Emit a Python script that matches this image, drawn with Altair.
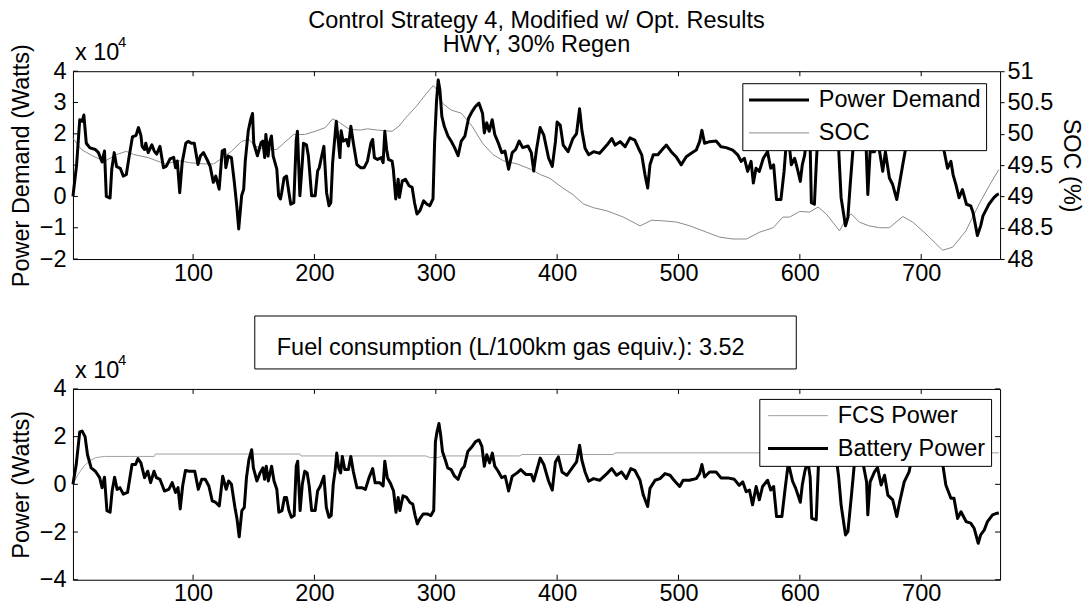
import altair as alt
import pandas as pd

# ---------------- data ----------------
# Power demand, units of 1e4 W
demand_t = [1, 4, 6.6, 8.5, 10, 12, 15, 19.5, 22, 25, 27, 28.5, 31.6, 33, 35, 37, 40, 42.5, 45, 47,
            50, 53, 55, 57, 58, 60, 61, 63, 66, 68, 70, 72.7, 75.6, 78, 81, 84, 85.6, 87, 89, 91,
            94, 96, 98.6, 101, 104, 106, 108.6, 111.5, 114, 116.7, 118.7, 121.5, 124, 126, 127, 129, 131.6, 134, 136, 137.6,
            140, 141.7, 143, 145.5, 147.4, 149, 150, 153, 156, 157.5, 159, 160, 161.8, 163, 164.6, 166, 169, 170.5, 172, 173,
            175, 177, 179, 180.5, 183, 185, 186, 188, 190, 191, 193.4, 195, 197.7, 200.6, 202.6, 204, 206, 207.8, 210, 212,
            213.5, 215, 216.4, 218, 219.5, 221, 222, 223.6, 226.4, 228, 230, 232, 235, 238, 241, 243.7, 246.5, 248, 249.4, 252,
            255, 256.6, 258, 259.5, 261, 264, 265, 267, 269, 270, 272.4, 275, 278, 280.5, 282.5, 284.5, 287, 290, 292.5, 295,
            297.7, 299, 300.6, 302, 303.4, 305, 307, 310, 312.6, 315.5, 318.4, 321, 324, 327, 330, 332.8, 335.6, 338.5, 340, 342,
            344, 346.5, 348.6, 351.4, 354.3, 357, 360, 363, 365.8, 368.7, 371.6, 376, 378.7, 380.7, 383, 386, 389, 393, 396, 398.6,
            400, 402.6, 405, 409, 413, 416, 418.5, 420.4, 423, 426, 430, 435, 441, 445, 447.8, 451.9, 456, 460, 464, 467,
            469.7, 472.4, 474.6, 476.5, 479.2, 483, 487.5, 490, 494, 498, 502.3, 506.4, 510.5, 514.6, 517.4, 519.3, 521.5, 525.6, 531, 535,
            539.3, 544.7, 548.8, 551.6, 554.3, 557, 559.8, 561.7, 563.9, 566.6, 569.9, 573.4, 576, 578.4, 580.8, 584.4, 587, 589.8, 593, 595.7,
            598.5, 600.4, 602, 604, 606.7, 608.5, 609.5, 612, 613.5, 615.7, 620, 625, 629, 632, 634, 637.6, 639.6, 641.5, 643.7, 647,
            651, 654.7, 656, 657.9, 661.5, 664, 665.6, 668.3, 670.5, 673.8, 676.5, 679.9, 682, 684.8, 687.5, 692, 697, 702, 707, 713,
            717, 719, 721.7, 724.5, 726.3, 728.6, 731.2, 734, 737.3, 740.8, 742.7, 746.3, 749, 750.9, 753, 755.8, 759.9, 762.6, 764]
demand_v = [0.0, 1.0, 2.45, 2.4, 2.6, 1.7, 1.55, 1.5, 1.4, 1.1, 1.45, 0.0, -0.05, 0.87, 1.4, 0.95, 0.9, 0.65, 0.7, 1.2,
            1.9, 1.95, 2.2, 1.95, 1.6, 1.5, 1.7, 1.4, 1.65, 1.45, 1.35, 1.6, 0.92, 0.97, 1.2, 1.25, 0.92, 1.13, 0.12, 1.08,
            1.7, 1.76, 1.7, 1.7, 1.02, 1.29, 1.4, 1.18, 0.97, 0.45, 0.65, 0.23, 1.45, 1.5, 0.92, 1.29, 1.24, 0.45, -0.3, -1.04,
            0.02, 0.23, 1.13, 2.1, 2.45, 2.65, 1.7, 1.3, 1.72, 1.77, 1.24, 1.98, 1.29, 1.72, 1.93, 1.29, 0.87, 0.02, -0.08, 0.12,
            0.6, 0.65, 0.12, -0.25, -0.2, 1.8, 2.08, 0.02, 1.08, 1.7, 1.65, 1.3, 0.02, 0.02, 0.81, 0.92, 1.29, 1.6, 0.12, -0.3,
            -0.2, 1.08, 1.7, 2.4, 1.82, 1.24, 2.1, 1.77, 1.82, 1.61, 2.24, 1.72, 1.02, 0.92, 0.92, 1.13, 1.7, 1.82, 1.24, 1.18,
            1.24, 1.08, 2.08, 1.5, 1.18, 1.13, 0.87, -0.08, 0.55, -0.03, 0.5, 0.55, 0.34, 0.29, -0.2, -0.56, -0.45, -0.14, -0.24, -0.3,
            -0.08, 1.7, 3.04, 3.72, 3.4, 2.56, 2.24, 1.93, 1.77, 1.56, 1.3, 1.77, 1.93, 2.5, 2.72, 2.88, 2.98, 2.66, 2.03, 2.35,
            2.08, 2.45, 1.98, 1.72, 1.4, 1.45, 0.87, 1.4, 1.5, 1.77, 1.56, 1.61, 1.4, 0.81, 1.5, 2.2, 1.96, 1.22, 0.96, 1.75,
            2.38, 2.27, 1.64, 1.43, 1.85, 2.01, 2.8, 2.11, 1.54, 1.33, 1.43, 1.38, 1.64, 1.85, 1.64, 1.75, 1.59, 1.87, 1.8, 1.54,
            1.33, 0.69, 0.27, 1.01, 1.33, 1.33, 1.54, 1.64, 1.43, 1.27, 1.01, 1.27, 1.38, 1.48, 1.75, 2.11, 1.7, 1.75, 1.77, 1.59,
            1.56, 1.48, 1.33, 1.12, 1.22, 0.8, 1.12, 0.43, 0.9, 0.8, 1.22, 1.43, 0.9, 1.01, -0.1, -0.1, 0.8, 2.2, 1.01, 1.22,
            0.8, 0.48, 1.01, 1.33, 2.3, 1.6, -0.2, -0.25, 1.0, 2.6, 3.0, 2.2, 2.8, 1.5, -0.04, -0.94, -0.67, 0.38, 1.47, 2.6,
            2.2, 1.5, 0.06, 1.43, 1.43, 1.9, 1.47, 0.8, 1.43, 0.59, 0.38, -0.1, 0.38, 1.01, 1.6, 2.6, 3.1, 2.3, 2.9, 2.2,
            2.4, 1.43, 0.9, 1.12, 0.69, 0.38, -0.04, 0.22, -0.25, -0.3, -0.51, -1.25, -0.94, -0.62, -0.46, -0.25, -0.04, 0.06, 0.08]

# Battery state of charge, %
soc_t = [1, 8, 17, 27, 37, 45, 51, 63, 77, 88.5, 97, 108.6, 117, 123, 131.6, 140, 146, 151.7, 160, 169,
         174.7, 183, 192, 200.6, 209, 215, 220.7, 229, 238, 243.7, 252, 264, 269.5, 275, 284, 292.5, 298, 301, 305.5, 312.6,
         321, 330, 338.5, 347, 355.7, 367, 378.7, 386, 394, 405, 413, 421.6, 430, 441, 454.6, 468.3, 477.9, 487.5, 498.5, 509.4,
         523, 534, 545, 556, 567, 578, 586, 591.6, 599.8, 608, 615, 621.8, 632.7, 638, 642.3, 649, 657, 665.6, 673.8, 684.8,
         693, 704, 717.7, 726, 736.8, 747.8, 756, 764]
soc_v = [49.93, 49.75, 49.65, 49.56, 49.67, 49.72, 49.67, 49.62, 49.52, 49.57, 49.54, 49.52, 49.52, 49.6, 49.72, 49.88, 49.91, 49.8, 49.75, 49.75,
         49.85, 49.99, 49.99, 50.04, 50.1, 50.24, 50.18, 50.07, 50.06, 50.08, 50.06, 50.04, 50.12, 50.25, 50.44, 50.65, 50.77, 50.7, 50.49, 50.38,
         50.33, 50.12, 49.85, 49.67, 49.57, 49.52, 49.43, 49.35, 49.29, 49.13, 49.03, 48.88, 48.82, 48.77, 48.67, 48.53, 48.62, 48.61, 48.59, 48.53,
         48.43, 48.35, 48.32, 48.32, 48.43, 48.5, 48.67, 48.67, 48.76, 48.75, 48.83, 48.72, 48.45, 48.64, 48.72, 48.59, 48.53, 48.5, 48.5, 48.68,
         48.59, 48.4, 48.14, 48.19, 48.45, 48.88, 49.17, 49.43]

# Fuel cell system power, units of 1e4 W
fcs_t = [1, 5, 10, 15, 20, 27, 68, 69, 188, 189, 292, 295, 302, 305, 369, 371, 446, 448, 764]
fcs_v = [0.0, 0.4, 0.76, 1.0, 1.12, 1.17, 1.17, 1.27, 1.27, 1.19, 1.19, 1.12, 1.12, 1.19, 1.19, 1.25, 1.25, 1.32, 1.32]

# Battery power, units of 1e4 W
batt_t = [1, 3.7, 6.6, 8.6, 11, 13, 16, 19.5, 23, 25, 27, 29, 31.6, 33.3, 35.3, 37.4, 39.7, 42.5, 46, 49.7,
          52.6, 54.6, 57, 60, 62.6, 65, 67.8, 69.8, 72.7, 76.4, 80, 82.8, 85.6, 87.6, 89.4, 91.4, 93.7, 97, 101.4, 104.3,
          107.2, 110, 113, 115.8, 118.7, 121.6, 124.4, 127.3, 129.3, 131.6, 134.5, 136.2, 138, 140.2, 142.2, 144, 146, 148.3, 149.7, 152.6,
          155.2, 157.5, 158.9, 160.3, 162, 164.7, 166.7, 169, 170.7, 173.3, 175.3, 177, 179, 181, 183.3, 185, 186.2, 188.2, 190, 192,
          194, 195.7, 197.7, 200.6, 202.6, 204.9, 207.8, 209.8, 212, 213.8, 215.5, 217, 218.4, 220, 221.6, 223, 225, 228, 230, 232,
          235, 239, 242, 245, 248, 250, 253.7, 256.6, 258, 260, 262.4, 265.2, 267.2, 269, 270.4, 273, 276, 278.7, 281, 283,
          284.8, 286.8, 289.7, 293, 296, 298.3, 299.7, 301, 302.6, 304, 305.5, 307.8, 309.8, 312.6, 315.5, 318.4, 321.3, 323.6, 326.4, 330,
          332.8, 335.6, 338, 340, 342, 344.3, 346.6, 348.6, 351.4, 354.3, 357.2, 360, 363, 367, 370, 374.4, 378.7, 380.7, 383, 386,
          389, 393, 396, 398.6, 401, 404, 408, 412, 416, 418.5, 420.4, 423, 426, 430, 435, 441, 445, 449, 453, 457,
          460.7, 464, 468.3, 471, 474.6, 476.5, 480.7, 484.8, 488.9, 493, 497, 501, 503.8, 509, 514.6, 517.4, 519.3, 521.5, 525.6, 531,
          535, 540.6, 546, 550, 553, 555.8, 558.5, 561, 564, 566.6, 569.3, 573.4, 576, 578.4, 580.8, 585.2, 587.9, 590.5, 594, 596.6,
          600.4, 602, 604, 606.5, 608.5, 609.8, 613.5, 615.7, 620, 625, 629, 632, 634, 637.6, 639.6, 642.3, 645, 648, 652, 655,
          656, 657.9, 661.5, 664, 667, 669.8, 672.5, 676.5, 679.9, 682, 686, 690, 693, 697, 702, 707, 713, 717, 720.3, 724.5,
          727, 730, 732.8, 737, 740.8, 743.6, 747, 749, 752, 754.6, 758.8, 762.6, 764]
batt_v = [0.0, 0.83, 2.2, 2.23, 2.0, 1.24, 0.69, 0.55, 0.28, -0.14, 0.3, -1.1, -1.17, -0.28, 0.3, -0.21, -0.14, -0.41, -0.34, 0.83,
          0.83, 1.08, 0.9, 0.28, 0.55, 0.07, 0.55, 0.28, 0.21, -0.28, -0.21, 0.07, -0.34, -0.14, -1.03, -0.07, 0.58, 0.55, 0.55, -0.21,
          0.21, 0.21, -0.07, -0.69, -0.76, -0.9, 0.34, -0.21, 0.14, 0.0, -0.97, -1.45, -2.2, -1.1, -0.97, 0.28, 1.03, 1.45, 0.69, 0.14,
          0.48, 0.69, 0.21, 0.76, 0.14, 0.76, 0.14, -0.21, -1.17, -1.1, -0.55, -0.55, -1.1, -1.38, -1.31, 0.76, 0.97, -1.1, 0.0, 0.55,
          0.48, -0.07, -1.1, -1.1, -0.28, -0.07, 0.34, -0.97, -1.38, -1.31, 0.0, 0.55, 1.31, 0.69, 0.48, 1.17, 0.62, 0.62, 1.17, 0.55,
          -0.14, -0.14, -0.21, 0.28, 0.66, 0.07, 0.07, -0.07, 0.97, 0.28, 0.07, -0.28, -1.17, -0.55, -1.1, -0.48, -0.55, -0.76, -0.83, -1.31,
          -1.66, -1.45, -1.24, -1.24, -1.31, -1.1, 1.79, 2.2, 2.55, 2.07, 1.38, 1.03, 0.69, 0.62, 0.34, 0.21, 0.62, 0.76, 1.38, 1.59,
          1.79, 1.86, 1.59, 0.76, 1.24, 0.9, 1.31, 0.76, 0.55, 0.28, 0.34, -0.28, 0.34, 0.48, 0.62, 0.41, 0.41, 0.14, 0.55, 1.1,
          0.83, 0.13, -0.24, 0.94, 1.15, 0.52, 0.38, 0.66, 0.94, 1.64, 1.01, 0.52, 0.13, 0.24, 0.17, 0.45, 0.66, 0.38, 0.52, 0.24,
          0.66, 0.59, 0.17, -0.45, -0.93, -0.17, 0.17, 0.24, 0.45, 0.38, 0.13, -0.09, 0.17, 0.17, 0.24, 0.45, 0.83, 0.31, 0.52, 0.52,
          0.27, 0.27, 0.21, -0.04, 0.1, -0.31, -0.24, -0.86, -0.09, -0.65, -0.09, 0.17, -0.24, -0.09, -1.35, -1.35, -0.17, 0.9, 0.13, -0.17,
          -0.75, -0.03, 0.52, 1.0, 0.3, -1.43, -1.49, 1.3, 1.7, 0.9, 1.5, 0.3, -0.86, -2.12, -1.98, -0.58, 0.9, 1.3, 0.9, 0.1,
          -1.28, 0.1, 0.52, 0.7, -0.03, 0.38, -0.45, -0.65, -1.35, -0.8, 0.1, 0.52, 1.3, 1.8, 1.0, 1.6, 0.9, 1.1, -0.03, -0.58,
          -0.58, -1.43, -1.15, -1.56, -1.63, -1.84, -2.47, -2.12, -1.91, -1.56, -1.28, -1.21, -1.2]

x_ticks = [100, 200, 300, 400, 500, 600, 700]
top_y_ticks = [-2, -1, 0, 1, 2, 3, 4]
soc_ticks = [48, 48.5, 49, 49.5, 50, 50.5, 51]
bot_y_ticks = [-4, -2, 0, 2, 4]

title_lines = ["Control Strategy 4, Modified w/ Opt. Results", "HWY, 30% Regen"]
top_series = ["Power Demand", "SOC"]
bot_series = ["FCS Power", "Battery Power"]
fuel_text = "Fuel consumption (L/100km gas equiv.): 3.52"
multiplier_base = "x 10"
multiplier_exp = "4"

# ---------------- chart ----------------
FONT = "Liberation Sans"
FS = 23.5
W, H1, H2 = 928, 188, 191
x_scale = alt.Scale(domain=[1, 765], nice=False, zero=False)
x_axis = alt.Axis(values=x_ticks, title=None, labelPadding=2, format="d")

df_demand = pd.DataFrame({"t": demand_t, "v": demand_v, "series": top_series[0]})
df_soc = pd.DataFrame({"t": soc_t, "v": soc_v, "series": top_series[1]})
df_fcs = pd.DataFrame({"t": fcs_t, "v": fcs_v, "series2": bot_series[0]})
df_batt = pd.DataFrame({"t": batt_t, "v": batt_v, "series2": bot_series[1]})
df_xt = pd.DataFrame({"t": x_ticks})
df_yt_top = pd.DataFrame({"v": top_y_ticks})
df_yt_bot = pd.DataFrame({"v": bot_y_ticks})
df_one = pd.DataFrame({"base": [multiplier_base], "exp": [multiplier_exp], "fuel": [fuel_text]})


def legend(x, y, sym_off):
    return alt.Legend(title=None, orient="none", legendX=x, legendY=y,
                      fillColor="white", strokeColor="black", padding=5,
                      symbolType="M-3,0H3", symbolSize=400, symbolFillColor="transparent",
                      symbolOffset=sym_off, labelOffset=28, rowPadding=8, labelLimit=400,
                      labelFont=FONT, labelFontSize=FS, labelColor="black", cornerRadius=0)


top_leg = legend(670, 12, 20)
top_color = alt.Color("series:N", scale=alt.Scale(domain=top_series, range=["black", "#8a8a8a"]),
                      legend=top_leg)
top_sw = alt.StrokeWidth("series:N", scale=alt.Scale(type="ordinal", domain=top_series, range=[3, 1]),
                         legend=top_leg)

soc_line = alt.Chart(df_soc).mark_line().encode(
    x=alt.X("t:Q", scale=x_scale, axis=x_axis),
    y=alt.Y("v:Q", scale=alt.Scale(domain=[48, 51], nice=False, zero=False),
            axis=alt.Axis(orient="right", values=soc_ticks, format="~g", title="SOC (%)",
                          labelPadding=3, titlePadding=6, tickSize=4, ticks=True, tickColor="black")),
    color=top_color, strokeWidth=top_sw)

demand_line = alt.Chart(df_demand).mark_line(strokeJoin="round").encode(
    x=alt.X("t:Q", scale=x_scale, axis=x_axis),
    y=alt.Y("v:Q", scale=alt.Scale(domain=[-2, 4], nice=False, zero=False),
            axis=alt.Axis(orient="left", values=top_y_ticks, format="d", title="Power Demand (Watts)",
                          labelPadding=7, titlePadding=6)),
    color=top_color, strokeWidth=top_sw)

xt_top1 = alt.Chart(df_xt).mark_rule(color="black").encode(
    x=alt.X("t:Q", scale=x_scale, axis=x_axis), y=alt.value(0), y2=alt.value(5))
xt_top2 = alt.Chart(df_xt).mark_rule(color="black").encode(
    x=alt.X("t:Q", scale=x_scale, axis=x_axis), y=alt.value(H1 - 5), y2=alt.value(H1))
yt_top = alt.Chart(df_yt_top).mark_rule(color="black").encode(
    y=alt.Y("v:Q", scale=alt.Scale(domain=[-2, 4], nice=False, zero=False), axis=None),
    x=alt.value(0), x2=alt.value(5))
mult_top = alt.Chart(df_one).mark_text(align="left", baseline="alphabetic", font=FONT, fontSize=FS).encode(
    text="base:N", x=alt.value(2), y=alt.value(-11))
mult_top_e = alt.Chart(df_one).mark_text(align="left", baseline="alphabetic", font=FONT, fontSize=15).encode(
    text="exp:N", x=alt.value(45), y=alt.value(-24))

top = alt.layer(soc_line, demand_line, xt_top1, xt_top2, yt_top, mult_top, mult_top_e).resolve_scale(
    y="independent").properties(
    width=W, height=H1,
    title=alt.TitleParams(text=title_lines, anchor="middle", frame="group", font=FONT, fontSize=FS,
                          fontWeight="normal", color="black", lineHeight=23.5, offset=-21))

bot_leg = legend(687, 10, 22)
bot_color = alt.Color("series2:N", scale=alt.Scale(domain=bot_series, range=["#a0a0a0", "black"]),
                      legend=bot_leg)
bot_sw = alt.StrokeWidth("series2:N", scale=alt.Scale(type="ordinal", domain=bot_series, range=[1, 3]),
                         legend=bot_leg)
bot_y = alt.Scale(domain=[-4, 4], nice=False, zero=False)

fcs_line = alt.Chart(df_fcs).mark_line().encode(
    x=alt.X("t:Q", scale=x_scale, axis=x_axis),
    y=alt.Y("v:Q", scale=bot_y, axis=alt.Axis(orient="left", values=bot_y_ticks, format="d",
                                               title="Power (Watts)", labelPadding=7, titlePadding=6)),
    color=bot_color, strokeWidth=bot_sw)
batt_line = alt.Chart(df_batt).mark_line(strokeJoin="round").encode(
    x=alt.X("t:Q", scale=x_scale, axis=x_axis),
    y=alt.Y("v:Q", scale=bot_y),
    color=bot_color, strokeWidth=bot_sw)
xt_bot1 = alt.Chart(df_xt).mark_rule(color="black").encode(
    x=alt.X("t:Q", scale=x_scale, axis=x_axis), y=alt.value(0), y2=alt.value(5))
xt_bot2 = alt.Chart(df_xt).mark_rule(color="black").encode(
    x=alt.X("t:Q", scale=x_scale, axis=x_axis), y=alt.value(H2 - 5), y2=alt.value(H2))
yt_bot1 = alt.Chart(df_yt_bot).mark_rule(color="black").encode(
    y=alt.Y("v:Q", scale=bot_y), x=alt.value(0), x2=alt.value(5))
yt_bot2 = alt.Chart(df_yt_bot).mark_rule(color="black").encode(
    y=alt.Y("v:Q", scale=bot_y), x=alt.value(W - 5), x2=alt.value(W))
mult_bot = alt.Chart(df_one).mark_text(align="left", baseline="alphabetic", font=FONT, fontSize=FS).encode(
    text="base:N", x=alt.value(2), y=alt.value(-11))
mult_bot_e = alt.Chart(df_one).mark_text(align="left", baseline="alphabetic", font=FONT, fontSize=15).encode(
    text="exp:N", x=alt.value(45), y=alt.value(-24))
fuel_box = alt.Chart(df_one).mark_rect(fill="white", stroke="black", strokeWidth=1).encode(
    x=alt.value(182), x2=alt.value(724), y=alt.value(-73), y2=alt.value(-20))
fuel_lbl = alt.Chart(df_one).mark_text(align="left", baseline="alphabetic", font=FONT, fontSize=FS).encode(
    text="fuel:N", x=alt.value(204), y=alt.value(-34))

bottom = alt.layer(fcs_line, batt_line, xt_bot1, xt_bot2, yt_bot1, yt_bot2,
                   mult_bot, mult_bot_e, fuel_box, fuel_lbl).properties(width=W, height=H2)

chart = alt.vconcat(top, bottom, spacing=27).resolve_scale(
    color="independent", strokeWidth="independent").resolve_legend(
    color="independent", strokeWidth="independent").properties(
    padding={"left": 0, "top": 0, "right": 0, "bottom": 0}, background="white"
).configure_view(stroke="black", strokeWidth=1).configure_axis(
    labelFont=FONT, titleFont=FONT, labelFontSize=FS, titleFontSize=FS, titleFontWeight="normal",
    labelColor="black", titleColor="black", ticks=False, domain=False, grid=False
).configure_legend(labelFont=FONT, labelFontSize=FS)

chart.save("out.html", embed_options={"renderer": "svg", "actions": False})
